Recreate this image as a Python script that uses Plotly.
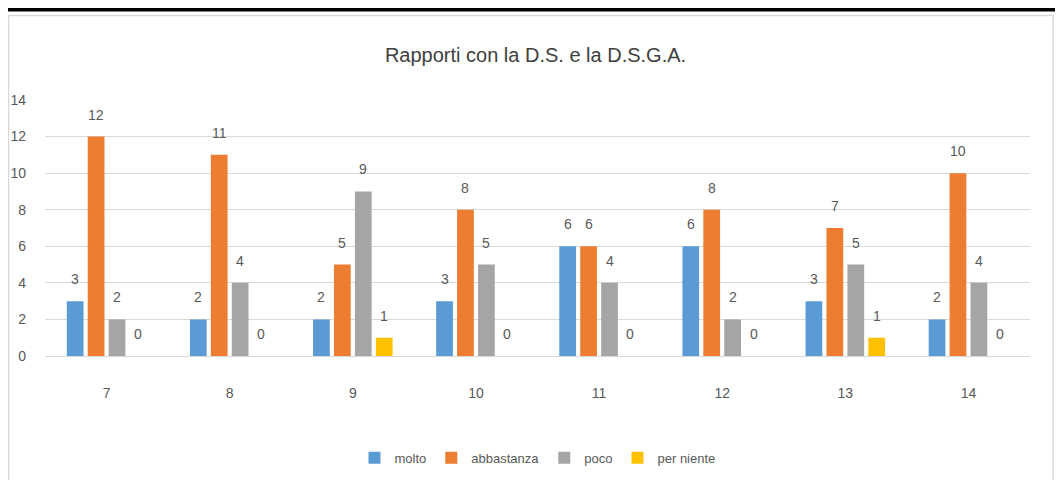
import plotly.graph_objects as go

categories = ['7', '8', '9', '10', '11', '12', '13', '14']
molto = [3, 2, 2, 3, 6, 6, 3, 2]
abbastanza = [12, 11, 5, 8, 6, 8, 7, 10]
poco = [2, 4, 9, 5, 4, 2, 5, 4]
per_niente = [0, 0, 1, 0, 0, 0, 1, 0]

series = [
    ('molto', molto, '#5B9BD5'),
    ('abbastanza', abbastanza, '#ED7D31'),
    ('poco', poco, '#A5A5A5'),
    ('per niente', per_niente, '#FFC000'),
]

FONT = 'Liberation Sans Narrow, Arial Narrow, Liberation Sans, sans-serif'

fig = go.Figure()
for name, vals, color in series:
    fig.add_trace(go.Bar(
        x=categories, y=vals, name=name,
        marker=dict(color=color, line=dict(width=0)),
    ))

# data labels sit a bit higher than plotly's 'outside' text, so use annotations
# (x given as category index so the category axis keeps its order)
slot = 0.68 * 123 / 4  # px per bar slot inside a category
for i, (name, vals, color) in enumerate(series):
    for j, v in enumerate(vals):
        fig.add_annotation(x=j, y=v, text=str(v), showarrow=False,
                           xshift=(i - 1.5) * slot, yshift=12, yanchor='bottom',
                           font=dict(size=14, color='#595959', family=FONT))

# page has an 8px body margin, so the figure is a bit smaller
fig.update_layout(
    width=1055, height=472,
    margin=dict(l=37, r=33, t=92, b=124, autoexpand=False),
    paper_bgcolor='white', plot_bgcolor='white',
    barmode='group', bargap=0.32, bargroupgap=0.2,
    font=dict(family=FONT, color='#595959', size=14),
    title=dict(text='Rapporti con la D.S. e la D.S.G.A.', x=0.5, xanchor='center',
               y=0.90, yanchor='middle',
               font=dict(size=20, color='#404040', family=FONT)),
    legend=dict(orientation='h', x=0.5, xanchor='center', y=-0.398, yanchor='middle',
                font=dict(size=13, color='#595959', family=FONT),
                traceorder='normal'),
    showlegend=True,
)
fig.update_yaxes(range=[0, 14], dtick=2, showgrid=True, gridcolor='#D9D9D9', gridwidth=1,
                 zeroline=False, showline=False, ticks='', ticklabelstandoff=18,
                 tickfont=dict(size=14, color='#595959'))
fig.update_xaxes(type='category', categoryorder='array', categoryarray=categories,
                 showgrid=False, showline=True, linecolor='#D9D9D9', ticks='',
                 ticklabelstandoff=24, tickfont=dict(size=14, color='#595959'))

# frame of the pasted chart
fig.add_shape(type='rect', xref='paper', yref='paper', x0=-0.037, x1=1.0234, y0=-0.5, y1=1.33,
              line=dict(color='#D9D9D9', width=1.5), layer='below')
fig.add_shape(type='line', xref='paper', yref='paper', x0=-0.06, x1=1.05, y0=1.355, y1=1.355,
              line=dict(color='black', width=5))

fig.write_html("out.html")
